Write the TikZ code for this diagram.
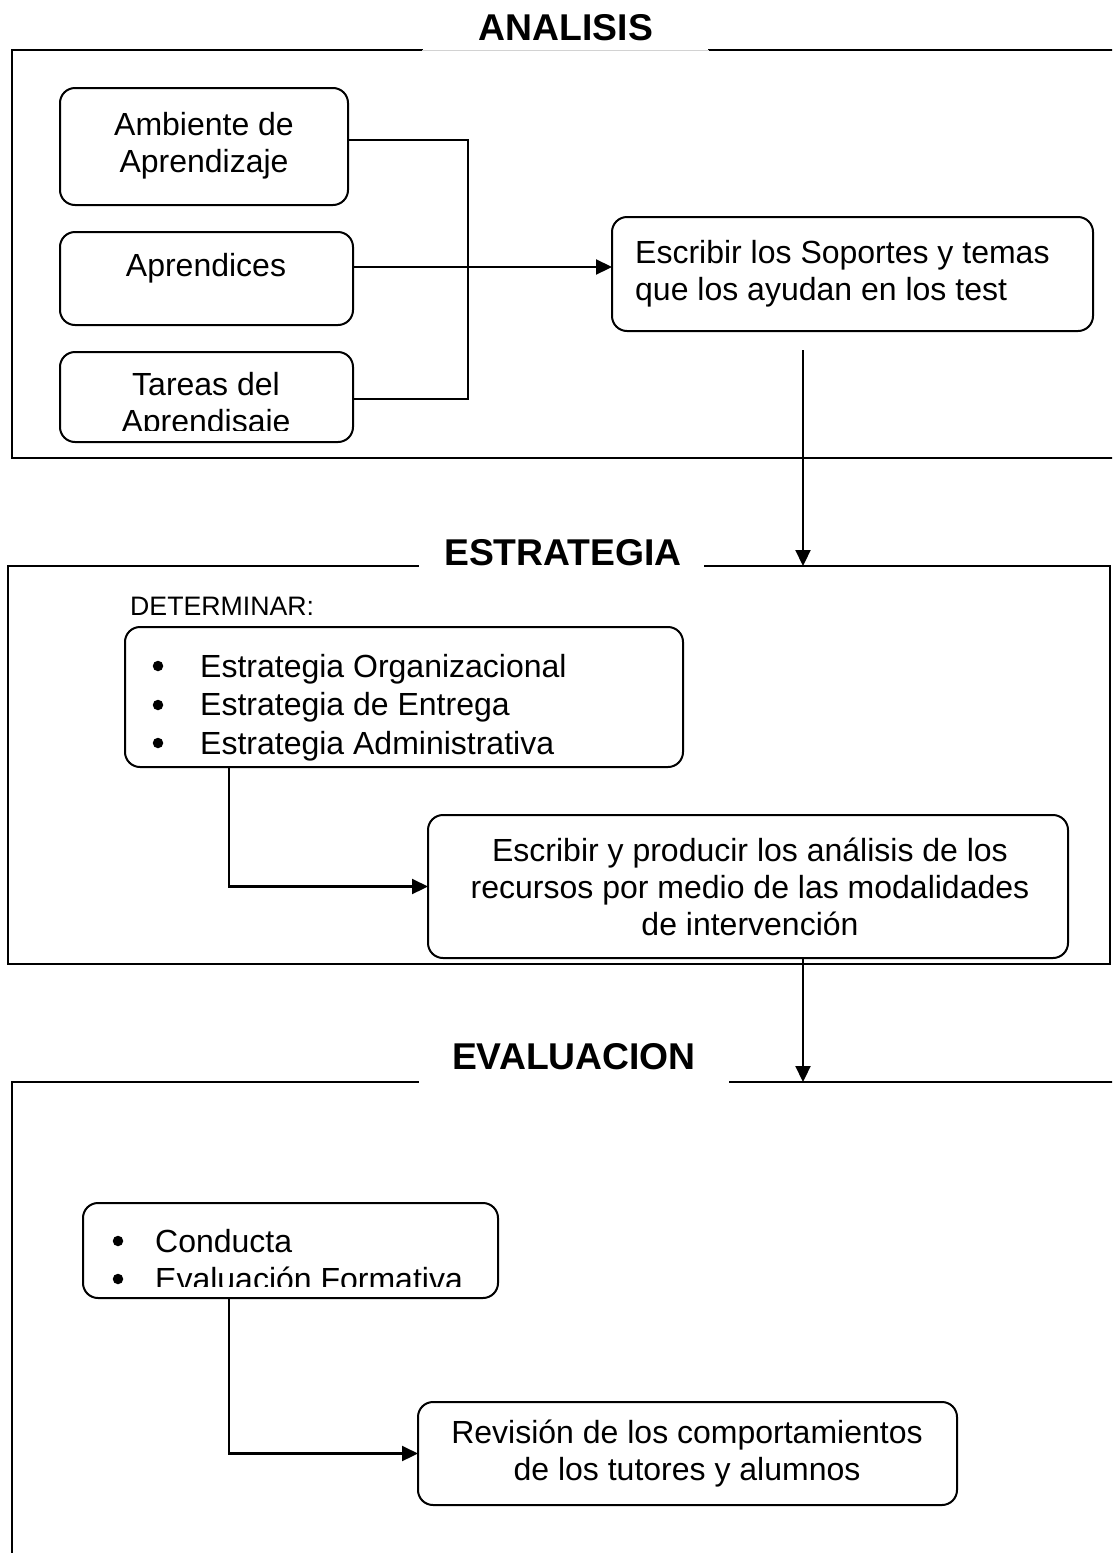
\documentclass[tikz,border=0pt]{standalone}
\usepackage{fontspec}
\setmainfont{Liberation Sans}
\usetikzlibrary{arrows.meta,calc}
\tikzset{
  frame/.style={line width=2.2pt, line cap=rect},
  box/.style={draw, line width=2pt, rounded corners=15pt, anchor=north west, inner sep=0pt, outer sep=0pt},
  txt/.style={font=\fontsize{32}{37}\selectfont, align=center, inner sep=0pt},
  ltxt/.style={font=\fontsize{32}{37}\selectfont, align=left, inner sep=0pt, anchor=west},
  small/.style={font=\fontsize{26.7}{31}\selectfont, inner sep=0pt, anchor=west},
  title/.style={font=\fontsize{37.3}{42}\selectfont\bfseries, inner sep=0pt},
  bulnode/.style={circle, fill=black, inner sep=0pt, minimum size=10.5pt},
  conn/.style={line width=2.2pt},
  arr/.style={line width=2.2pt, -{Triangle[length=16pt,width=15pt]}}
}
\begin{document}
\begin{tikzpicture}[x=1pt,y=-1pt]
\useasboundingbox (0,0) rectangle (1112,1553);
\clip (0,0) rectangle (1112,1553);
\fill[white] (0,0) rectangle (1112,1553);

% ---------- ANALISIS ----------
\node[title] (t1) at (566,28) {ANALISIS};
\draw[frame] (422,50) -- (12,50) -- (12,458) -- (1140,458);
\draw[frame] (709,50) -- (1140,50);
\draw[gray!35, line width=0.8pt] (422,50) -- (709,50);

\node[box, minimum width=288pt, minimum height=117pt] (amb) at (60,88) {};
\node[txt] (ambT) at (204,146) {Ambiente de\\Aprendizaje};

\node[box, minimum width=293pt, minimum height=93pt] (apr) at (60,232) {};
\node[txt] (aprT) at (206,268) {Aprendices};

\node[box, minimum width=293pt, minimum height=90pt] (tar) at (60,352) {};
\begin{scope}
  \clip (60,352) rectangle (353,430);
  \node[txt] (tarT) at (206,406) {Tareas del\\Aprendisaje};
\end{scope}

\node[box, minimum width=481pt, minimum height=114pt] (esc) at (612,217) {};
\node[ltxt] (escT) at (635,274) {Escribir los Soportes y temas\\que los ayudan en los test};

\coordinate (jx) at (468,0);
\coordinate (yA) at (0,267);
\draw[conn] (amb.east |- 0,140) -| (jx |- 0,399) -- (tar.east |- 0,399);
\draw[arr] (apr.east |- yA) -- (esc.west |- yA);

% ---------- ESTRATEGIA ----------
\node[title] (t2) at (563,553) {ESTRATEGIA};
\draw[frame] (418,566) -- (8,566) -- (8,964) -- (1110,964) -- (1110,566) -- (705,566);
\coordinate (a1s) at (803,350);
\draw[arr] (a1s) -- (803,566);

\node[small] (det) at (130,606) {DETERMINAR:};
\node[box, minimum width=558pt, minimum height=140pt] (bul) at (125,627) {};
\node[bulnode] (b1) at (158,666) {};
\node[bulnode] (b2) at (158,705) {};
\node[bulnode] (b3) at (158,743) {};
\node[ltxt, anchor=base west, font=\fontsize{32}{38.5}\selectfont] (bulT) at (200,754) {Estrategia Organizacional\\
Estrategia de Entrega\\
Estrategia Administrativa};

\node[box, minimum width=640pt, minimum height=143pt] (prod) at (428,815) {};
\node[txt] (prodT) at (750,887) {Escribir y producir los análisis de los\\recursos por medio de las modalidades\\de intervención};

\coordinate (c1) at (229,0);
\draw[arr] (bul.south -| c1) |- (prod.west);

% ---------- EVALUACION ----------
\node[title] (t3) at (574,1057) {EVALUACION};
\draw[frame] (418,1082) -- (12,1082) -- (12,1600);
\draw[frame] (730,1082) -- (1140,1082);
\coordinate (a2s) at (803,958);
\draw[arr] (prod.south -| a2s) -- (803,1082);

\node[box, minimum width=415pt, minimum height=95pt] (cond) at (83,1203) {};
\begin{scope}
  \clip (83,1203) rectangle (498,1286);
  \node[bulnode] (b4) at (118,1241) {};
  \node[bulnode] (b5) at (118,1279) {};
  \node[ltxt, anchor=base west, font=\fontsize{32}{38}\selectfont] (condT) at (155,1290) {Conducta\\
Evaluación Formativa};
\end{scope}

\node[box, minimum width=539pt, minimum height=103pt] (rev) at (418,1402) {};
\node[txt] (revT) at (687,1454) {Revisión de los comportamientos\\de los tutores y alumnos};

\draw[arr] (cond.south -| c1) |- (rev.west);
\end{tikzpicture}
\end{document}
